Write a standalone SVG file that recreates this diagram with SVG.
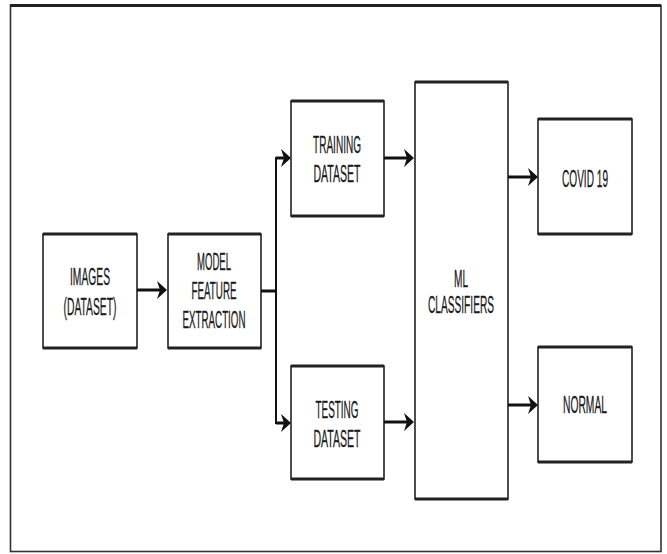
<svg xmlns="http://www.w3.org/2000/svg" xmlns:xlink="http://www.w3.org/1999/xlink" width="667" height="554" viewBox="0 0 667 554">
<defs>
<style>
.box{fill:#fff;stroke:#222;stroke-width:1.6}
.hz{stroke:#222;stroke-width:3;fill:none}
.ln{stroke:#111;fill:none}
.t{font-family:"Liberation Sans",Arial,sans-serif;font-size:23px;fill:#1a1a1a;text-anchor:middle;stroke:#1a1a1a;stroke-width:0.3}
</style>
<path id="ah" d="M0,0 L-10,-9 L-7,0 L-10,9 Z" fill="#111"/>
</defs>
<rect width="667" height="554" fill="#fff"/>
<g id="frame">
<rect x="10.5" y="5.5" width="650.5" height="546" fill="none" stroke="#333" stroke-width="1.6"/>
<line x1="10" y1="5.5" x2="661" y2="5.5" class="hz"/>
</g>
<g id="images">
<rect class="box" x="43" y="234" width="94" height="114"/>
<line class="hz" x1="43" y1="234" x2="137" y2="234"/><line class="hz" x1="43" y1="348" x2="137" y2="348"/>
<text class="t" x="90" y="285" textLength="40" lengthAdjust="spacingAndGlyphs">IMAGES</text>
<text class="t" x="90" y="315" textLength="53" lengthAdjust="spacingAndGlyphs">(DATASET)</text>
</g>
<g id="model">
<rect class="box" x="168" y="234" width="93" height="114"/>
<line class="hz" x1="168" y1="234" x2="261" y2="234"/><line class="hz" x1="168" y1="348" x2="261" y2="348"/>
<text class="t" x="214" y="270" textLength="34" lengthAdjust="spacingAndGlyphs">MODEL</text>
<text class="t" x="214" y="299" textLength="45" lengthAdjust="spacingAndGlyphs">FEATURE</text>
<text class="t" x="214" y="328" textLength="63" lengthAdjust="spacingAndGlyphs">EXTRACTION</text>
</g>
<g id="training">
<rect class="box" x="291" y="101" width="93" height="115"/>
<line class="hz" x1="291" y1="101" x2="384" y2="101"/><line class="hz" x1="291" y1="216" x2="384" y2="216"/>
<text class="t" x="337" y="153" textLength="48" lengthAdjust="spacingAndGlyphs">TRAINING</text>
<text class="t" x="337" y="182" textLength="47" lengthAdjust="spacingAndGlyphs">DATASET</text>
</g>
<g id="testing">
<rect class="box" x="291" y="366" width="93" height="113"/>
<line class="hz" x1="291" y1="366" x2="384" y2="366"/><line class="hz" x1="291" y1="479" x2="384" y2="479"/>
<text class="t" x="337" y="418" textLength="43" lengthAdjust="spacingAndGlyphs">TESTING</text>
<text class="t" x="337" y="447" textLength="47" lengthAdjust="spacingAndGlyphs">DATASET</text>
</g>
<g id="ml">
<rect class="box" x="415" y="82" width="93" height="417"/>
<line class="hz" x1="415" y1="82" x2="508" y2="82"/><line class="hz" x1="415" y1="499" x2="508" y2="499"/>
<text class="t" x="461" y="287" textLength="14" lengthAdjust="spacingAndGlyphs">ML</text>
<text class="t" x="461" y="313" textLength="66" lengthAdjust="spacingAndGlyphs">CLASSIFIERS</text>
</g>
<g id="covid">
<rect class="box" x="538" y="119" width="94" height="115"/>
<line class="hz" x1="538" y1="119" x2="632" y2="119"/><line class="hz" x1="538" y1="234" x2="632" y2="234"/>
<text class="t" x="585" y="187" textLength="46" lengthAdjust="spacingAndGlyphs">COVID 19</text>
</g>
<g id="normal">
<rect class="box" x="538" y="347" width="94" height="115"/>
<line class="hz" x1="538" y1="347" x2="632" y2="347"/><line class="hz" x1="538" y1="462" x2="632" y2="462"/>
<text class="t" x="585" y="413" textLength="44" lengthAdjust="spacingAndGlyphs">NORMAL</text>
</g>
<g id="connectors">
<line class="ln" stroke-width="3" x1="137" y1="290" x2="161" y2="290"/>
<use xlink:href="#ah" x="167" y="290"/>
<line class="ln" stroke-width="3" x1="261" y1="291" x2="276" y2="291"/>
<polyline class="ln" stroke-width="2" points="285,158 276,158 276,423 285,423"/>
<line class="ln" stroke-width="3" x1="276" y1="158" x2="285" y2="158"/>
<line class="ln" stroke-width="3" x1="276" y1="423" x2="285" y2="423"/>
<use xlink:href="#ah" x="291" y="158"/>
<use xlink:href="#ah" x="291" y="423"/>
<line class="ln" stroke-width="3" x1="384" y1="158" x2="408" y2="158"/>
<use xlink:href="#ah" x="414" y="158"/>
<line class="ln" stroke-width="3" x1="384" y1="422" x2="408" y2="422"/>
<use xlink:href="#ah" x="414" y="422"/>
<line class="ln" stroke-width="3" x1="508" y1="177" x2="532" y2="177"/>
<use xlink:href="#ah" x="538" y="177"/>
<line class="ln" stroke-width="3" x1="508" y1="405" x2="532" y2="405"/>
<use xlink:href="#ah" x="538" y="405"/>
</g>
</svg>
